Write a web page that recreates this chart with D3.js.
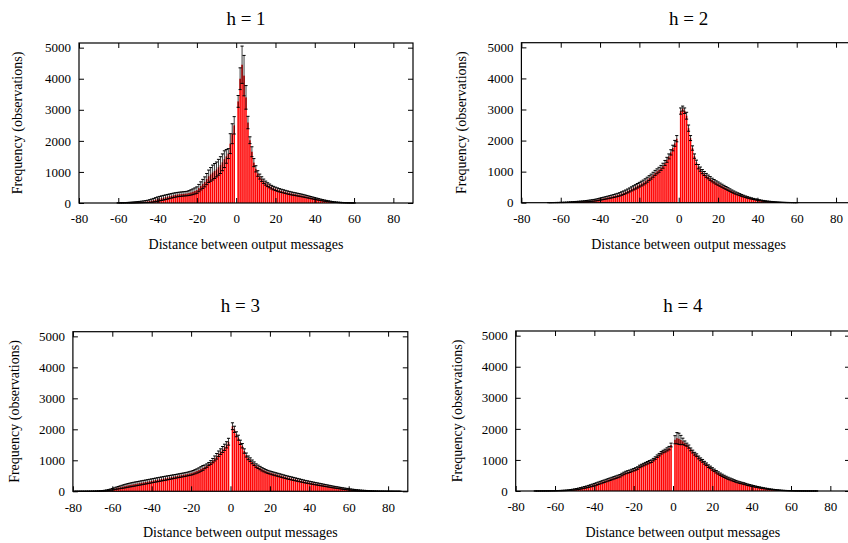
<!DOCTYPE html>
<html>
<head>
<meta charset="utf-8">
<script src="https://cdn.jsdelivr.net/npm/d3@7/dist/d3.min.js"></script>
<style>
  html, body { margin: 0; padding: 0; background: #fff; }
  svg { display: block; }
  text { font-family: "Liberation Serif", "Times New Roman", serif; fill: #000; }
</style>
</head>
<body>
<svg id="chart" width="848" height="543"></svg>
<script>
// Distance histograms (mean frequency per integer bin, with ± error bars) for h = 1..4

const xTicks = [-80, -60, -40, -20, 0, 20, 40, 60, 80];
const yTicks = [0, 1000, 2000, 3000, 4000, 5000];

// h = 1 : bins -60 .. 60
const h1First = -60;
const h1Freq = [
  3,4,5,6,8,10,12,15,18,22,26,30,35,40,46,52,62,75,90,108,
  125,140,155,170,185,200,215,230,245,258,270,278,285,292,298,305,320,340,362,388,
  415,480,550,615,680,770,860,920,980,1030,1080,1150,1220,1310,1410,1500,1590,1910,2230,2500,
  0,
  3270,4000,4450,4100,3400,2590,2020,1650,1300,1100,950,850,770,700,640,590,550,510,480,455,
  432,410,392,375,358,340,325,310,297,285,272,260,247,235,220,205,190,175,160,145,
  130,115,101,88,76,65,55,45,37,30,25,20,16,12,9,7,5,4,3,2
];
const h1Err = [
  4,5,6,7,8,10,12,14,16,18,20,22,25,28,32,38,45,52,58,64,
  70,72,74,75,75,75,74,73,72,71,70,70,70,70,70,72,78,85,92,98,
  105,118,130,145,160,180,200,220,240,240,240,255,270,270,270,220,160,320,320,280,
  0,
  190,350,600,650,380,200,110,160,130,100,90,80,75,70,65,62,60,58,56,55,
  54,53,52,51,50,50,49,48,47,46,45,44,43,42,40,38,36,34,32,30,
  28,26,24,22,20,18,16,14,12,10,9,8,7,6,5,4,4,3,3,2
];

// h = 2 : bins -66 .. 60
const h2First = -66;
const h2Freq = [
  2,2,3,4,5,6,8,9,11,13,16,19,22,25,28,32,36,40,45,50,
  56,62,70,78,88,100,115,128,142,156,170,185,200,216,233,250,270,295,320,348,
  378,410,445,478,510,545,580,615,650,690,740,790,840,900,960,1010,1060,1120,1190,1280,1380,1490,1620,1760,1910,2060,
  0,
  2950,3030,2960,2800,2400,2080,1760,1500,1300,1160,1080,1000,940,880,830,780,730,690,650,615,
  580,545,510,475,440,405,370,340,310,285,260,235,212,190,170,152,136,120,106,93,
  81,70,60,52,44,38,32,27,22,18,15,12,10,8,6,5,4,3,2,2
];
const h2Err = [
  2,2,3,3,4,4,5,6,7,8,9,10,11,12,13,14,15,16,18,20,
  22,24,26,28,30,32,34,36,38,40,42,44,46,48,50,52,54,56,58,60,
  62,64,66,68,70,72,74,76,78,80,80,80,80,80,80,80,80,80,80,80,80,80,85,90,95,100,
  0,
  100,80,90,110,100,80,70,70,70,70,68,66,64,62,60,60,58,56,55,54,
  52,50,48,46,44,42,40,38,36,34,32,30,28,26,24,22,20,18,17,16,
  15,14,13,12,11,10,9,8,7,6,5,5,4,4,3,3,2,2,2,2
];

// h = 3 : bins -79 .. 86
const h3First = -79;
const h3Freq = [
  1,1,1,2,2,2,3,3,4,5,6,8,10,13,17,22,30,40,52,66,
  82,100,115,130,145,160,175,190,203,215,228,240,252,264,276,288,300,312,324,336,
  350,362,374,386,398,410,422,434,446,458,470,482,494,506,518,530,542,555,570,585,
  605,630,655,685,720,755,790,830,880,930,990,1060,1130,1210,1280,1350,1420,1500,1600,
  0,
  2100,2000,1840,1730,1580,1470,1300,1170,1080,1020,950,890,830,790,750,710,680,650,625,605,
  585,568,550,532,515,498,480,462,445,430,415,400,385,370,355,340,325,310,298,285,
  272,260,248,236,224,212,200,188,176,164,152,140,130,120,110,100,90,80,72,64,
  56,49,42,36,30,25,21,18,15,12,10,8,7,6,5,4,4,3,3,2,2,2,1,1,1,1
];
const h3Err = [
  1,1,1,1,1,1,2,2,2,3,3,4,5,6,8,10,13,16,20,25,
  30,35,40,45,50,55,58,60,62,64,65,65,65,65,65,65,65,65,65,65,
  65,65,65,65,65,65,65,64,63,62,61,60,60,60,60,60,60,60,62,64,
  66,68,70,72,75,78,60,55,50,60,70,80,90,90,90,95,100,100,110,
  0,
  110,100,80,80,70,70,70,65,60,60,60,58,56,55,54,53,52,51,50,50,
  50,50,50,50,50,50,50,50,50,50,49,48,47,46,45,44,43,42,41,40,
  40,39,38,37,36,35,34,33,32,31,30,29,28,27,26,25,24,23,22,21,
  20,19,18,17,16,15,14,13,12,11,10,9,8,7,6,5,5,4,4,3,3,3,2,2,2,2
];

// h = 4 : bins -70 .. 73
const h4First = -70;
const h4Freq = [
  1,1,1,2,2,3,3,4,5,6,7,9,11,13,16,19,23,28,34,41,
  50,60,72,85,100,115,130,148,166,185,205,225,248,270,292,314,336,358,380,402,
  424,446,468,490,530,565,595,615,635,660,685,710,740,790,820,850,880,910,940,960,1010,1060,1120,1170,1230,1270,1300,1340,1380,1480,
  0,
  1650,1700,1680,1640,1600,1540,1490,1430,1340,1270,1200,1150,1080,1020,970,910,860,800,760,710,
  665,620,580,540,505,470,440,410,385,360,335,310,290,270,255,240,220,200,185,170,
  155,140,127,115,102,90,80,70,60,52,45,38,32,27,22,18,15,12,10,8,
  7,5,4,3,3,2,2,1,1,1,1,1,1
];
const h4Err = [
  1,1,1,1,1,2,2,2,3,3,4,5,6,7,8,9,10,12,14,16,
  18,20,22,24,26,28,30,32,34,36,38,40,40,40,40,40,40,40,40,40,
  40,40,40,40,40,40,40,40,40,40,40,40,40,40,40,40,40,40,40,40,40,40,40,40,40,40,45,50,55,60,
  0,
  130,180,180,150,100,70,50,50,45,45,45,45,45,45,45,45,42,42,40,40,
  40,40,38,38,36,36,34,34,32,32,30,30,28,28,26,26,24,24,22,22,
  20,20,18,18,16,16,14,14,12,12,10,10,9,8,7,6,5,5,4,4,
  3,3,3,2,2,2,2,1,1,1,1,1,1
];

const panelTitles = ["h = 1", "h = 2", "h = 3", "h = 4"];
const xLabel = "Distance between output messages";
const yLabel = "Frequency (observations)";

const panels = [
  { title: panelTitles[0], first: h1First, freq: h1Freq, err: h1Err,
    box: { left: 79, right: 413, top: 43, bottom: 203 }, yTitleX: 17, xTitleY: 244, titleY: 18 },
  { title: panelTitles[1], first: h2First, freq: h2Freq, err: h2Err,
    box: { left: 521.4, right: 855.7, top: 42.7, bottom: 202.7 }, yTitleX: 461, xTitleY: 244, titleY: 18 },
  { title: panelTitles[2], first: h3First, freq: h3Freq, err: h3Err,
    box: { left: 72.9, right: 407.8, top: 331.7, bottom: 491.3 }, yTitleX: 14, xTitleY: 532, titleY: 305 },
  { title: panelTitles[3], first: h4First, freq: h4Freq, err: h4Err,
    box: { left: 515.7, right: 850, top: 331, bottom: 491 }, yTitleX: 457, xTitleY: 532, titleY: 305 }
];

const svg = d3.select("#chart");
const plain = d => String(d);

panels.forEach(p => {
  const b = p.box;
  const x = d3.scaleLinear().domain([-80, 90]).range([b.left, b.right]);
  const y = d3.scaleLinear().domain([0, 5150]).range([b.bottom, b.top]);
  const unit = x(1) - x(0);
  const rows = p.freq.map((v, i) => ({ bin: p.first + i, value: v, err: p.err[i] }));

  const g = svg.append("g");

  // red bars, one per integer distance
  g.append("g").selectAll("rect")
    .data(rows.filter(d => d.value > 0))
    .join("rect")
      .attr("x", d => x(d.bin) - unit * 0.4)
      .attr("width", unit * 0.8)
      .attr("y", d => y(d.value))
      .attr("height", d => y(0) - y(d.value))
      .attr("fill", "#ff0000");

  // error bars: mean ± err, with small caps
  const eb = g.append("g").attr("stroke", "#000").attr("fill", "none");
  const withErr = rows.filter(d => d.value > 0);
  eb.selectAll("line.v").data(withErr).join("line").attr("class", "v")
    .attr("x1", d => x(d.bin)).attr("x2", d => x(d.bin))
    .attr("y1", d => y(Math.max(0, d.value - d.err)))
    .attr("y2", d => y(d.value + d.err))
    .attr("stroke-width", 0.9).attr("stroke-opacity", 0.85);
  eb.selectAll("line.t").data(withErr).join("line").attr("class", "t")
    .attr("x1", d => x(d.bin) - unit * 0.8).attr("x2", d => x(d.bin) + unit * 0.8)
    .attr("y1", d => y(d.value + d.err)).attr("y2", d => y(d.value + d.err))
    .attr("stroke-width", 1);
  eb.selectAll("line.b").data(withErr).join("line").attr("class", "b")
    .attr("x1", d => x(d.bin) - unit * 0.8).attr("x2", d => x(d.bin) + unit * 0.8)
    .attr("y1", d => y(Math.max(0, d.value - d.err))).attr("y2", d => y(Math.max(0, d.value - d.err)))
    .attr("stroke-width", 1);

  // axes with inward ticks on all four sides
  const tickFont = 13;
  const bottomAxis = g.append("g").attr("transform", `translate(0,${b.bottom})`)
    .call(d3.axisBottom(x).tickValues(xTicks).tickFormat(plain).tickSizeInner(-5).tickSizeOuter(0).tickPadding(11));
  const topAxis = g.append("g").attr("transform", `translate(0,${b.top})`)
    .call(d3.axisTop(x).tickValues(xTicks).tickSizeInner(-5).tickSizeOuter(0).tickFormat(""));
  const leftAxis = g.append("g").attr("transform", `translate(${b.left},0)`)
    .call(d3.axisLeft(y).tickValues(yTicks).tickFormat(plain).tickSizeInner(-5).tickSizeOuter(0).tickPadding(8));
  const rightAxis = g.append("g").attr("transform", `translate(${b.right},0)`)
    .call(d3.axisRight(y).tickValues(yTicks).tickSizeInner(-5).tickSizeOuter(0).tickFormat(""));
  [bottomAxis, topAxis, leftAxis, rightAxis].forEach(a => {
    a.select(".domain").remove();
    a.selectAll("line").attr("stroke", "#000");
    a.selectAll("text").attr("font-family", "Liberation Serif").attr("font-size", tickFont);
  });

  // frame
  g.append("rect")
    .attr("x", b.left).attr("y", b.top)
    .attr("width", b.right - b.left).attr("height", b.bottom - b.top)
    .attr("fill", "none").attr("stroke", "#000").attr("stroke-width", 1.2);

  const cx = (b.left + b.right) / 2;
  g.append("text").attr("x", cx).attr("y", p.titleY)
    .attr("text-anchor", "middle").attr("dominant-baseline", "central")
    .attr("font-size", 19).text(p.title);
  g.append("text").attr("x", cx).attr("y", p.xTitleY)
    .attr("text-anchor", "middle").attr("dominant-baseline", "central")
    .attr("font-size", 14).text(xLabel);
  g.append("text")
    .attr("transform", `translate(${p.yTitleX},${(b.top + b.bottom) / 2}) rotate(-90)`)
    .attr("text-anchor", "middle").attr("dominant-baseline", "central")
    .attr("font-size", 14).text(yLabel);
});
</script>
</body>
</html>
